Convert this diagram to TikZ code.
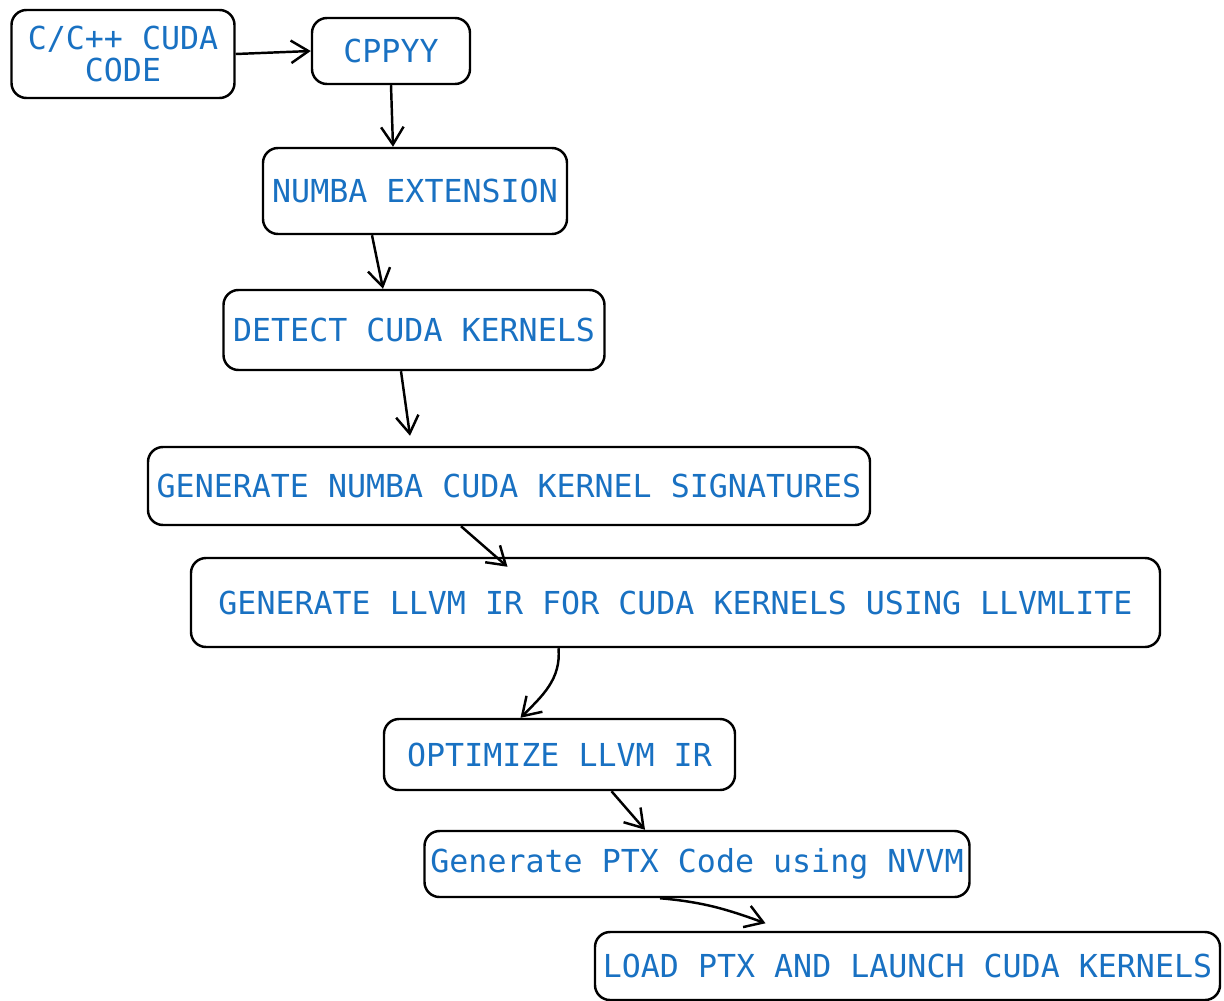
\documentclass[tikz,border=0pt]{standalone}
\usepackage{fontspec}
\setmonofont{DejaVu Sans Mono}
\usetikzlibrary{arrows.meta}
\definecolor{textblue}{HTML}{1971C2}
\tikzset{
  box/.style={draw, line width=1.4pt, rounded corners=0.3cm, inner xsep=2pt,
    text=textblue, font=\ttfamily\fontsize{18}{18}\selectfont, align=center},
  flow/.style={-{Straight Barb[length=3.5mm,width=4.5mm]}, line width=1.4pt}
}
\begin{document}
\begin{tikzpicture}
            \useasboundingbox (0,0) rectangle (24.48,-20);

            % Top row
            \node[box, minimum width=4.46cm, minimum height=1.76cm] (code) at (2.46,-1.08) {C/C++ CUDA\\CODE};
            \node[box, minimum width=3.16cm, minimum height=1.32cm] (cppyy) at (7.82,-1.02) {CPPYY};

            % Numba stages
            \node[box, minimum width=6.08cm, minimum height=1.72cm] (ext) at (8.30,-3.82) {NUMBA EXTENSION};
            \node[box, minimum width=7.62cm, minimum height=1.60cm] (detect) at (8.28,-6.60) {DETECT CUDA KERNELS};
            \node[box, minimum width=14.44cm, minimum height=1.56cm] (sig) at (10.18,-9.72) {GENERATE NUMBA CUDA KERNEL SIGNATURES};

            % LLVM stages
            \node[box, minimum width=19.38cm, minimum height=1.78cm] (llvm) at (13.51,-12.05) {GENERATE LLVM IR FOR CUDA KERNELS USING LLVMLITE};
            \node[box, minimum width=7.02cm, minimum height=1.42cm] (opt) at (11.19,-15.09) {OPTIMIZE LLVM IR};

            % PTX stages
            \node[box, minimum width=10.9cm, minimum height=1.32cm] (ptx) at (13.94,-17.28) {Generate PTX Code using NVVM};
            \node[box, minimum width=12.50cm, minimum height=1.36cm] (load) at (18.15,-19.32) {LOAD PTX AND LAUNCH CUDA KERNELS};

            % Edges
            \draw[flow] (code.east) -- (cppyy.west);
            \draw[flow] (cppyy.south) -- ([xshift=-0.44cm]ext.north);
            \draw[flow] ([xshift=-0.86cm]ext.south) -- ([xshift=-0.62cm]detect.north);
            \draw[flow] ([xshift=-0.26cm]detect.south) -- ([xshift=-1.98cm, yshift=0.2cm]sig.north);
            \draw[flow] ([xshift=-0.96cm]sig.south) -- ([xshift=-3.36cm, yshift=-0.2cm]llvm.north);
            \draw[flow] ([xshift=-2.34cm]llvm.south) to[out=-85, in=45] ([xshift=-0.78cm]opt.north);
            \draw[flow] ([xshift=1.04cm]opt.south) -- ([xshift=-1.04cm]ptx.north);
            \draw[flow] ([xshift=-0.74cm]ptx.south) to[out=-5, in=160] ([xshift=-2.84cm, yshift=0.15cm]load.north);

        \end{tikzpicture}
\end{document}
